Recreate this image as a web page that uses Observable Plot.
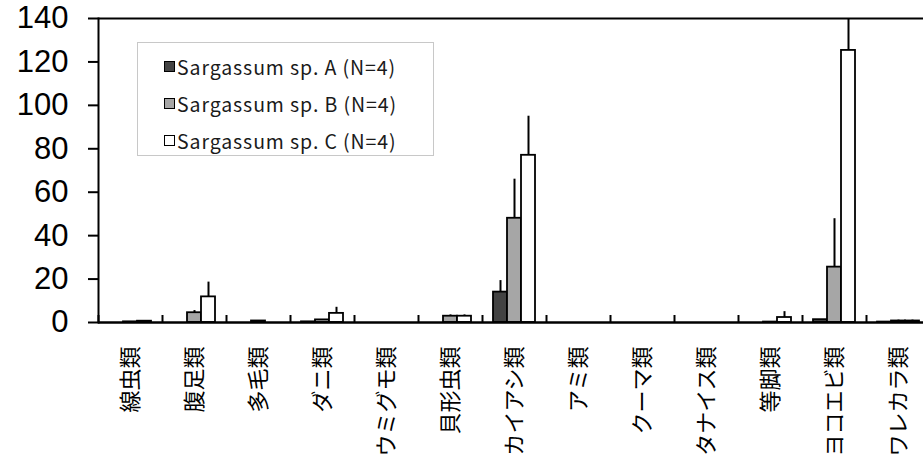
<!DOCTYPE html>
<html><head><meta charset="utf-8">
<script src="https://cdn.jsdelivr.net/npm/d3@7"></script>
<script src="https://cdn.jsdelivr.net/npm/@observablehq/plot@0.6"></script>
<style>
body{margin:0;background:#fff;}
#wrap{position:relative;width:923px;height:470px;overflow:hidden;background:#fff;}
#legend{position:absolute;left:137px;top:42px;width:297px;height:114px;border:1px solid #c8c8c8;box-sizing:border-box;background:#fff;font-family:"Noto Sans CJK JP","Noto Sans",sans-serif;font-size:19.5px;letter-spacing:0.9px;color:#1a1a1a;}
.item{position:absolute;left:26px;display:flex;align-items:center;height:26px;white-space:nowrap;}
.sw{width:9px;height:9px;border:1.5px solid #000;margin-right:2px;}
</style></head><body><div id="wrap"><div id="legend"></div></div>
<script>
const categories = ["線虫類","腹足類","多毛類","ダニ類","ウミグモ類","貝形虫類","カイアシ類","アミ類","クーマ類","タナイス類","等脚類","ヨコエビ類","ワレカラ類"];
const seriesNames = ["Sargassum sp. A (N=4)","Sargassum sp. B (N=4)","Sargassum sp. C (N=4)"];
const meanA = [0, 0, 0, 0.3, 0, 0, 14, 0, 0, 0, 0, 1.3, 0.2];
const meanB = [0.3, 4.5, 0.7, 1.2, 0, 2.9, 48, 0, 0, 0, 0.2, 25.5, 0.7];
const meanC = [0.6, 11.8, 0, 4.2, 0, 2.9, 77, 0, 0, 0, 2.3, 125.3, 0.7];
const errA = [0, 0, 0, 0, 0, 0, 5.3, 0, 0, 0, 0, 0, 0];
const errB = [0, 1.0, 0, 0, 0, 0.6, 18, 0, 0, 0, 0, 22.3, 0.4];
const errC = [0.3, 6.8, 0, 2.8, 0, 0.6, 18, 0, 0, 0, 2.7, 30, 0.4];
const colors = ["#434343", "#a6a6a6", "#ffffff"];
const yTicks = [0, 20, 40, 60, 80, 100, 120, 140];

const means = [meanA, meanB, meanC];
const errs = [errA, errB, errC];
const data = [];
categories.forEach((c, i) => {
  seriesNames.forEach((s, k) => {
    data.push({category: c, series: s, value: means[k][i], err: errs[k][i]});
  });
});

const chart = Plot.plot({
  width: 923, height: 470,
  marginLeft: 98, marginRight: -7, marginTop: 18, marginBottom: 148,
  style: {background: "transparent", overflow: "visible", color: "#000"},
  fx: {domain: categories, paddingInner: 0, paddingOuter: 0, label: null},
  x: {domain: seriesNames, paddingInner: 0, paddingOuter: 0.68, axis: null},
  y: {domain: [0, 140], label: null},
  color: {domain: seriesNames, range: colors},
  marks: [
    Plot.ruleY([140], {stroke: "#000", strokeWidth: 2}),
    Plot.barY(data, {fx: "category", x: "series", y: "value", fill: "series", stroke: "#000", strokeWidth: 1.8}),
    Plot.ruleX(data.filter(d => d.err > 0), {fx: "category", x: "series", y1: "value", y2: d => d.value + d.err, stroke: "#000", strokeWidth: 2, clip: true}),
    Plot.ruleY([0], {stroke: "#000", strokeWidth: 2.5}),
    Plot.frame({anchor: "left", facetAnchor: "left", stroke: "#000", strokeWidth: 2}),
    Plot.axisY({ticks: yTicks, tickSize: 10, tickPadding: 20, fontSize: 31, fontFamily: "Liberation Sans", strokeWidth: 2, label: null}),
    Plot.axisFx({anchor: "bottom", tickSize: 0, tickPadding: 24, tickRotate: -90, fontSize: 22, fontFamily: "Noto Sans CJK JP", label: null}),
    Plot.axisFx({anchor: "bottom", tickSize: 7, dy: -7, dx: -32, text: null, strokeWidth: 2, label: null})
  ]
});
document.getElementById("wrap").prepend(chart);

const legend = document.getElementById("legend");
seriesNames.forEach((s, k) => {
  const it = document.createElement("div");
  it.className = "item";
  it.style.top = (10 + k * 37) + "px";
  const sw = document.createElement("span");
  sw.className = "sw";
  sw.style.background = colors[k];
  const tx = document.createElement("span");
  tx.textContent = s;
  it.appendChild(sw); it.appendChild(tx);
  legend.appendChild(it);
});
</script></body></html>
